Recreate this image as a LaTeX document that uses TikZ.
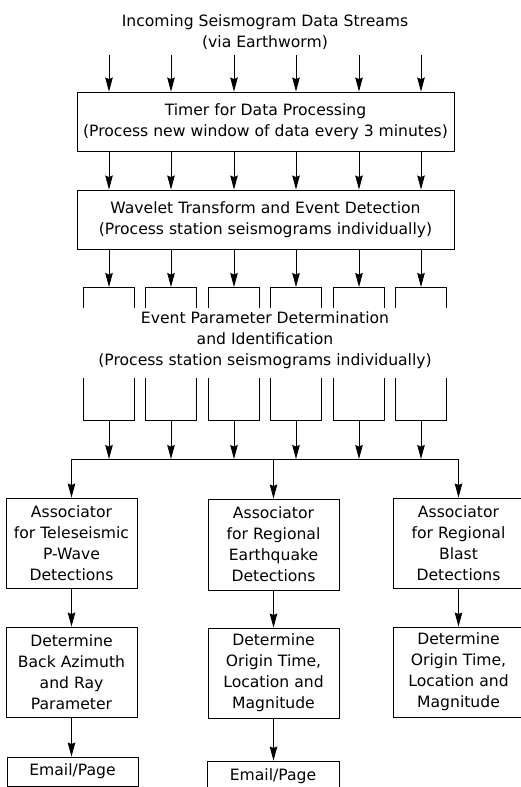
\documentclass[tikz,border=0pt]{standalone}
\usepackage{fontspec}
\setmainfont{DejaVu Sans}
\usetikzlibrary{arrows.meta, positioning, calc}

\begin{document}
\begin{tikzpicture}[
    x=1pt, y=-1pt,
    line width=0.9pt,
    stage/.style={rectangle, draw=black, line width=0.9pt, inner sep=0pt, align=center, font=\fontsize{15.6}{21}\selectfont},
    heading/.style={align=center, inner sep=0pt, font=\fontsize{15.6}{21}\selectfont},
    arrow/.style={-{Stealth[length=14pt, width=7.5pt, inset=1.5pt]}, line width=0.9pt}
]

\useasboundingbox (0,0) rectangle (521,787);

% Incoming data
\node[heading] at (265,32.5) (incoming) {Incoming Seismogram Data Streams\\(via Earthworm)};

% Timer and wavelet stages
\node[stage, minimum width=377pt, minimum height=59pt] at (265.5,121.5) (timer) {Timer for Data Processing\\(Process new window of data every 3 minutes)};
\node[stage, minimum width=377pt, minimum height=59pt] at (265.5,219.5) (wavelet) {Wavelet Transform and Event Detection\\(Process station seismograms individually)};

% Event parameter stage (open brackets round the text)
\node[heading] at (265,340) (evparam) {Event Parameter Determination\\and Identification\\(Process station seismograms individually)};

% Station channels
\foreach \i/\x in {1/109, 2/171, 3/234, 4/296, 5/359, 6/421} {
    \coordinate (in\i) at (\x,55);
    \coordinate (pt\i) at (\x,287);
    \coordinate (pb\i) at (\x,420);
    \draw[arrow] (in\i) -- (in\i |- timer.north);
    \draw[arrow] (in\i |- timer.south) -- (in\i |- wavelet.north);
    \draw[arrow] (in\i |- wavelet.south) -- (pt\i);
    \draw ({\x-25.5},308) -- ({\x-25.5},287) -- ({\x+25.5},287) -- ({\x+25.5},308);
    \draw ({\x-25.5},378) -- ({\x-25.5},420) -- ({\x+25.5},420) -- ({\x+25.5},378);
}

% Collector line
\coordinate (busL) at (72,459);
\coordinate (busR) at (459,459);
\draw (busL) -- (busR);
\foreach \i in {1,...,6} {
    \draw[arrow] (pb\i) -- (pb\i |- busL);
}

% Associators
\node[stage, minimum width=131pt, minimum height=90pt] at (71.5,543) (tele) {Associator\\for Teleseismic\\P-Wave\\Detections};
\node[stage, minimum width=131pt, minimum height=91pt] at (273.5,544.5) (quake) {Associator\\for Regional\\Earthquake\\Detections};
\node[stage, minimum width=131pt, minimum height=90pt] at (458.5,543) (blast) {Associator\\for Regional\\Blast\\Detections};

\draw[arrow] (tele.north |- busL) -- (tele.north);
\draw[arrow] (quake.north |- busL) -- (quake.north);
\draw[arrow] (blast.north |- busR) -- (blast.north);

% Parameter determination
\node[stage, minimum width=131pt, minimum height=90pt] at (71.5,672) (azimuth) {Determine\\Back Azimuth\\and Ray\\Parameter};
\node[stage, minimum width=131pt, minimum height=90pt] at (273.5,673) (quakeloc) {Determine\\Origin Time,\\Location and\\Magnitude};
\node[stage, minimum width=131pt, minimum height=90pt] at (458.5,672) (blastloc) {Determine\\Origin Time,\\Location and\\Magnitude};

\draw[arrow] (tele) -- (azimuth);
\draw[arrow] (quake) -- (quakeloc);
\draw[arrow] (blast) -- (blastloc);

% Notification
\node[stage, minimum width=131pt, minimum height=29pt] at (72.5,771.5) (mail1) {Email/Page};
\node[stage, minimum width=132pt, minimum height=30pt] at (273,776) (mail2) {Email/Page};

\draw[arrow] (azimuth) -- (mail1.north -| azimuth);
\draw[arrow] (quakeloc) -- (mail2.north -| quakeloc);

\end{tikzpicture}
\end{document}
